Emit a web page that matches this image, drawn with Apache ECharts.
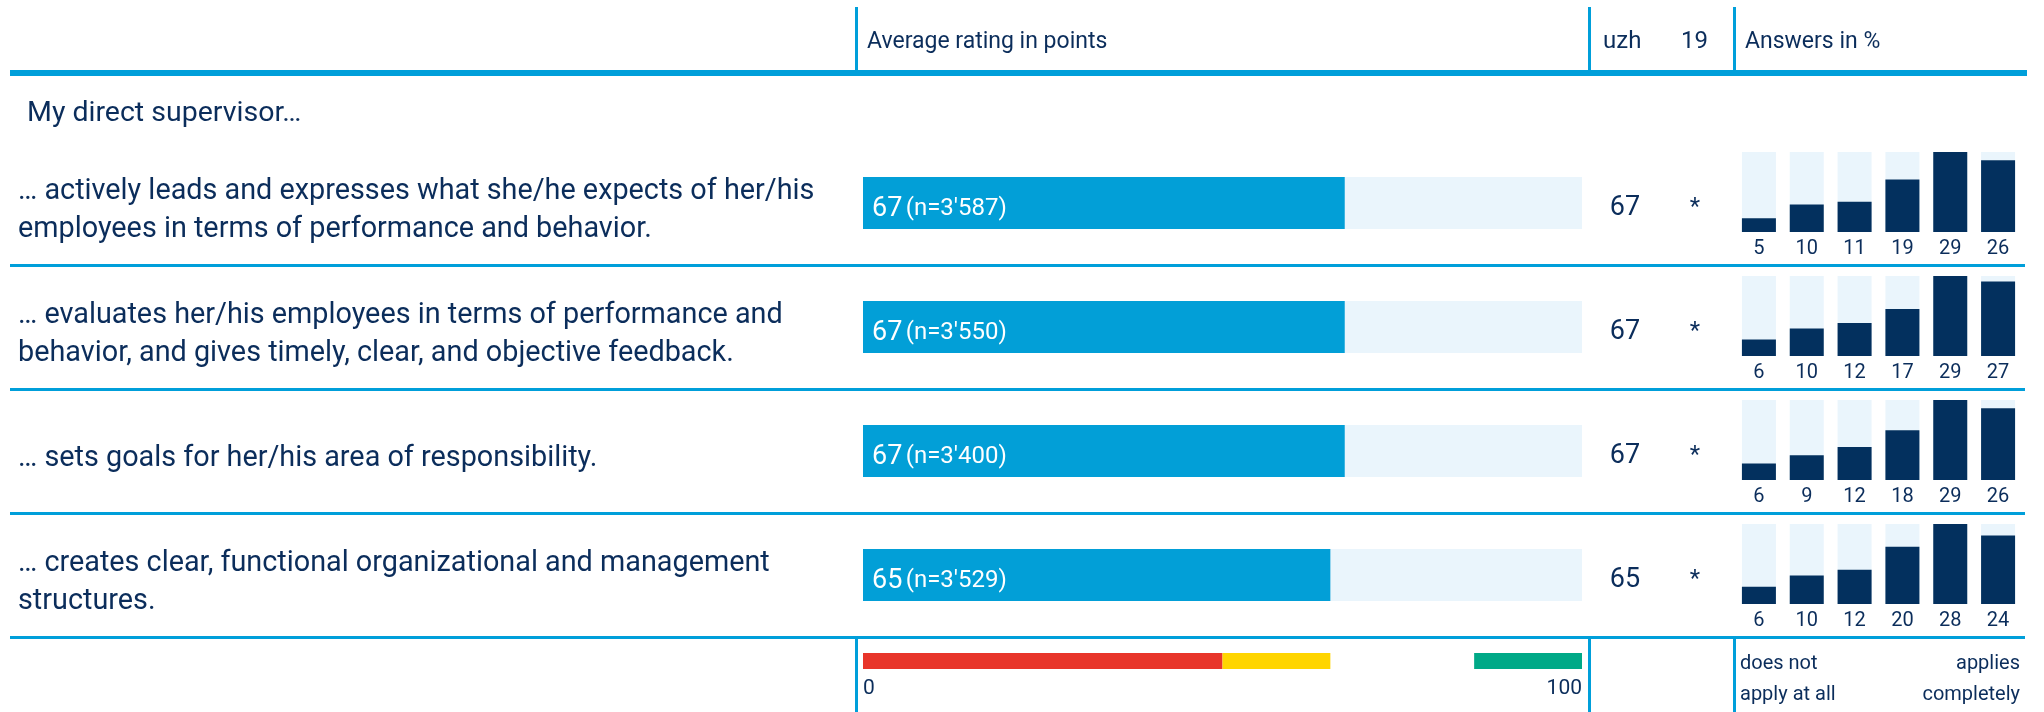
<!DOCTYPE html>
<html lang="en">
<head>
<meta charset="UTF-8">
<title>My direct supervisor</title>
<style>
  html, body { margin: 0; padding: 0; background: #fff; }
  #main { width: 2044px; height: 712px; }
</style>
</head>
<body>
<div id="main"></div>
<script src="https://cdn.jsdelivr.net/npm/echarts@6/dist/echarts.min.js"></script>
<script>
// data
var questions = [
    '\u2026 actively leads and expresses what she/he expects of her/his\nemployees in terms of performance and behavior.',
    '\u2026 evaluates her/his employees in terms of performance and\nbehavior, and gives timely, clear, and objective feedback.',
    '\u2026 sets goals for her/his area of responsibility.',
    '\u2026 creates clear, functional organizational and management\nstructures.'
];
var ratings = [67, 67, 67, 65];
var counts = ["3'587", "3'550", "3'400", "3'529"];
var uzhValues = [67, 67, 67, 65];
var marks = ['*', '*', '*', '*'];
var answers = [
    [5, 10, 11, 19, 29, 26],
    [6, 10, 12, 17, 29, 27],
    [6, 9, 12, 18, 29, 26],
    [6, 10, 12, 20, 28, 24]
];
var answerSteps = ['1', '2', '3', '4', '5', '6'];
var scaleNames = ['low', 'mid', 'gap', 'high'];
var scaleEnds = [50, 65, 85, 100];
var scaleColors = ['#E8352A', '#FFD500', 'rgba(0,0,0,0)', '#00A987'];

var NAVY = '#0B2D5B';
var LINE = '#009FDA';
var FONT = 'Roboto';

var myChart = echarts.init(document.getElementById('main'));

// layout
var rowTop = 141, rowH = 124;
var miniLeft = 1735, miniW = 287, miniTop = 152, miniH = 80;
var rowsH = rowH * questions.length;

var grids = [
    {left: 863, top: rowTop, width: 719, height: rowsH},      // rating bars
    {left: 863, top: 653, width: 719, height: 16},            // colour scale
    {left: 863, top: rowTop + 8, width: 719, height: rowsH},  // question texts (sit a little low)
    {left: 863, top: rowTop + 5, width: 719, height: rowsH}   // uzh value and mark columns
];
var hiddenX = function (g) { return {gridIndex: g, type: 'value', min: 0, max: 100, show: false}; };
var xAxes = [
    hiddenX(0),
    {gridIndex: 1, type: 'value', min: 0, max: 100, interval: 100,
        axisLine: {show: false}, axisTick: {show: false}, splitLine: {show: false},
        axisLabel: {color: NAVY, fontFamily: FONT, fontSize: 21, margin: 9,
            alignMinLabel: 'left', alignMaxLabel: 'right'}},
    hiddenX(2),
    hiddenX(3)
];
var yAxes = [
    {gridIndex: 0, type: 'category', inverse: true, data: questions, show: false},
    {gridIndex: 1, type: 'category', data: ['scale'], show: false},
    {gridIndex: 2, type: 'category', inverse: true, data: questions,
        axisLine: {show: false}, axisTick: {show: false},
        axisLabel: {align: 'left', margin: 845, color: NAVY, fontFamily: FONT,
            fontSize: 28.8, lineHeight: 38}},
    {gridIndex: 3, type: 'category', inverse: true, position: 'right', data: uzhValues,
        axisLine: {show: false}, axisTick: {show: false},
        axisLabel: {align: 'center', margin: 43, color: NAVY, fontFamily: FONT, fontSize: 27}},
    {gridIndex: 3, type: 'category', inverse: true, position: 'right', data: marks,
        axisLine: {show: false}, axisTick: {show: false},
        axisLabel: {align: 'center', margin: 113, color: NAVY, fontFamily: FONT, fontSize: 24}}
];

var series = [{
    type: 'bar',
    xAxisIndex: 0, yAxisIndex: 0,
    data: ratings,
    barWidth: 52,
    itemStyle: {color: '#029FD7'},
    showBackground: true,
    backgroundStyle: {color: '#EAF5FC'},
    label: {
        show: true, position: 'insideLeft', distance: 9,
        padding: [12, 0, 0, 0],
        formatter: function (p) {
            return '{v|' + ratings[p.dataIndex] + '} {n|(n=' + counts[p.dataIndex] + ')}';
        },
        rich: {
            v: {color: '#fff', fontFamily: FONT, fontSize: 27},
            n: {color: '#fff', fontFamily: FONT, fontSize: 24}
        }
    },
    silent: true
}];

// colour scale under the rating column
var prev = 0;
scaleNames.forEach(function (name, i) {
    series.push({
        type: 'bar', name: name, stack: 'scale',
        xAxisIndex: 1, yAxisIndex: 1,
        barWidth: 16,
        data: [scaleEnds[i] - prev],
        itemStyle: {color: scaleColors[i]},
        silent: true
    });
    prev = scaleEnds[i];
});

// small answer distributions
answers.forEach(function (vals, i) {
    var g = grids.length;
    grids.push({left: miniLeft, top: miniTop + rowH * i, width: miniW, height: miniH});
    xAxes.push({gridIndex: g, type: 'category', data: answerSteps, show: false});
    yAxes.push({gridIndex: g, type: 'value', min: 0, max: 'dataMax', show: false});
    series.push({
        type: 'bar',
        xAxisIndex: xAxes.length - 1, yAxisIndex: yAxes.length - 1,
        data: vals,
        barWidth: 34,
        itemStyle: {color: '#03305E'},
        showBackground: true,
        backgroundStyle: {color: '#EAF5FC'},
        label: {show: true, position: 'bottom', distance: 7, color: NAVY,
            fontFamily: FONT, fontSize: 20},
        silent: true
    });
});

// rules and headings
var graphics = [];
function rule(x, y, w, h) {
    graphics.push({type: 'rect', shape: {x: x, y: y, width: w, height: h}, style: {fill: LINE}, silent: true});
}
function text(x, y, s, size, align) {
    graphics.push({type: 'text', x: x, y: y, silent: true,
        style: {text: s, fill: NAVY, font: size + 'px ' + FONT, textAlign: align || 'left',
            textVerticalAlign: 'middle', lineHeight: 31}});
}
rule(10, 70, 2017, 6);
for (var r = 0; r < questions.length; r++) rule(10, rowTop + rowH * (r + 1) - 1, 2015, 3);
[855, 1588, 1733].forEach(function (x) {
    rule(x, 7, 3, 63);
    rule(x, 638, 3, 74);
});
text(867, 42, 'Average rating in points', 23);
text(1603, 42, 'uzh', 24);
text(1681, 42, '19', 24);
text(1745, 42, 'Answers in %', 23);
text(27, 114, 'My direct supervisor\u2026', 28.5);
text(1740, 679, 'does not\napply at all', 20);
text(2020, 679, 'applies\ncompletely', 20, 'right');

myChart.setOption({
    animation: false,
    grid: grids,
    xAxis: xAxes,
    yAxis: yAxes,
    series: series,
    graphic: graphics
});
</script>
</body>
</html>
